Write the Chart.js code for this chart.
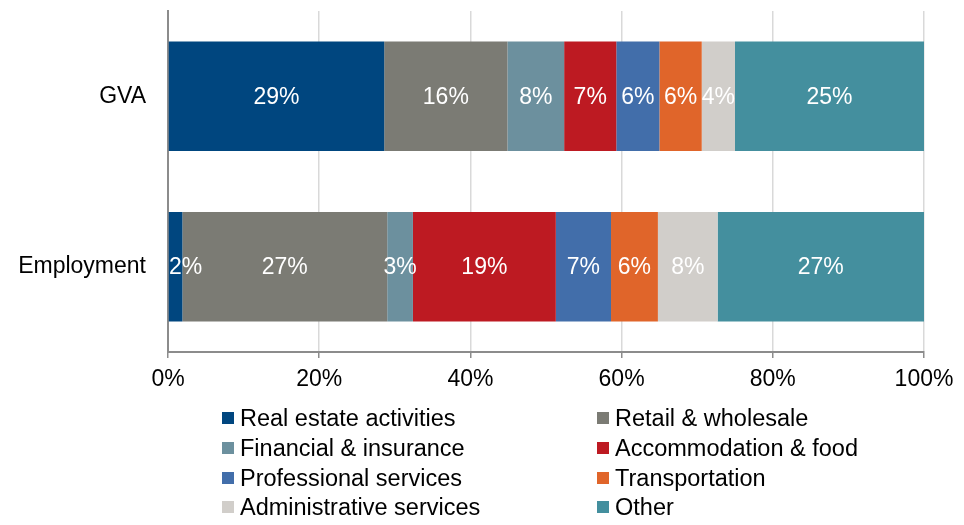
<!DOCTYPE html>
<html>
<head>
<meta charset="utf-8">
<script src="https://cdn.jsdelivr.net/npm/chart.js@4.4.1/dist/chart.umd.min.js"></script>
<style>
  html, body { margin: 0; padding: 0; background: #fff; }
  #wrap { position: relative; width: 964px; height: 525px; }
  #legend { position: absolute; left: 0; top: 0; width: 964px; height: 525px; pointer-events: none; }
  .item { position: absolute; height: 24px; display: flex; align-items: center;
          font-family: "Liberation Sans", Arial, sans-serif;
          font-size: 23.5px; color: #000; white-space: nowrap; }
  .box { width: 12px; height: 12px; margin-right: 6px; flex: none; }
</style>
</head>
<body>
<div id="wrap">
  <canvas id="sectorChart" width="964" height="525"></canvas>
  <div id="legend"></div>
</div>
<script>
  // categories and series (% share)
  const categories = ['GVA', 'Employment'];
  const sectors = ['Real estate activities', 'Retail & wholesale', 'Financial & insurance',
    'Accommodation & food', 'Professional services', 'Transportation',
    'Administrative services', 'Other'];
  const realEstate = [28.6, 1.9];
  const retail = [16.3, 27.1];
  const financial = [7.5, 3.4];
  const accommodation = [6.9, 18.9];
  const professional = [5.7, 7.3];
  const transportation = [5.6, 6.2];
  const administrative = [4.4, 7.9];
  const other = [25.0, 27.3];
  const xTicks = [0, 20, 40, 60, 80, 100];

  const seriesValues = [realEstate, retail, financial, accommodation, professional,
    transportation, administrative, other];
  const colors = ['#00467F', '#7B7B74', '#6C909E', '#BD1A22', '#426EAA', '#E0652A', '#D1CECA', '#448F9E'];

  const font = 'Liberation Sans, Arial, sans-serif';

  // draws the white % labels inside each segment
  const barLabels = {
    id: 'barLabels',
    afterDatasetsDraw(chart) {
      const ctx = chart.ctx;
      const area = chart.chartArea;
      ctx.save();
      ctx.font = '23px ' + font;
      ctx.fillStyle = '#ffffff';
      ctx.textAlign = 'center';
      ctx.textBaseline = 'middle';
      chart.data.datasets.forEach((ds, i) => {
        chart.getDatasetMeta(i).data.forEach((bar, j) => {
          const txt = Math.round(ds.data[j]) + '%';
          const w = ctx.measureText(txt).width;
          let x = bar.getCenterPoint().x;
          x = Math.max(x, area.left + w / 2 + 1);
          ctx.fillText(txt, x, bar.getCenterPoint().y + 1);
        });
      });
      ctx.restore();
    }
  };

  const data = {
    labels: categories,
    datasets: sectors.map((name, i) => ({
      label: name,
      data: seriesValues[i],
      backgroundColor: colors[i],
      borderWidth: 0,
      categoryPercentage: 1,
      barPercentage: 0.643
    }))
  };

  const options = {
    indexAxis: 'y',
    responsive: false,
    animation: false,
    layout: { padding: { left: 0, right: 40, top: 11, bottom: 0 } },
    plugins: {
      legend: { display: false },
      tooltip: { enabled: false }
    },
    scales: {
      x: {
        stacked: true,
        min: 0,
        max: 100,
        afterBuildTicks: (scale) => { scale.ticks = xTicks.map(v => ({ value: v })); },
        afterFit: (scale) => { scale.height = 525 - 352; scale.paddingRight = 0; scale.paddingLeft = 0; },
        grid: { color: '#D9D9D9', lineWidth: 1.5, tickColor: '#8C8C8C', tickLength: 6 },
        border: { color: '#8C8C8C', width: 2 },
        ticks: {
          color: '#000',
          font: { family: font, size: 23 },
          padding: 8,
          callback: (v) => v + '%'
        }
      },
      y: {
        stacked: true,
        afterFit: (scale) => { scale.width = 168; scale.paddingTop = 0; scale.paddingBottom = 0; },
        grid: { display: false, drawTicks: false },
        border: { color: '#8C8C8C', width: 2 },
        ticks: {
          color: '#000',
          font: { family: font, size: 23 },
          padding: 22
        }
      }
    }
  };

  const ctx = document.getElementById('sectorChart').getContext('2d');
  const myChart = new Chart(ctx, {
    type: 'bar',
    data: data,
    options: options,
    plugins: [barLabels]
  });

  // two-column legend below the chart
  const legend = document.getElementById('legend');
  const colX = [222, 597];
  const rowY = [418, 448, 478, 507];
  sectors.forEach((name, i) => {
    const item = document.createElement('div');
    item.className = 'item';
    item.style.left = colX[i % 2] + 'px';
    item.style.top = (rowY[Math.floor(i / 2)] - 12) + 'px';
    const box = document.createElement('span');
    box.className = 'box';
    box.style.background = colors[i];
    const label = document.createElement('span');
    label.textContent = name;
    item.appendChild(box);
    item.appendChild(label);
    legend.appendChild(item);
  });
</script>
</body>
</html>
